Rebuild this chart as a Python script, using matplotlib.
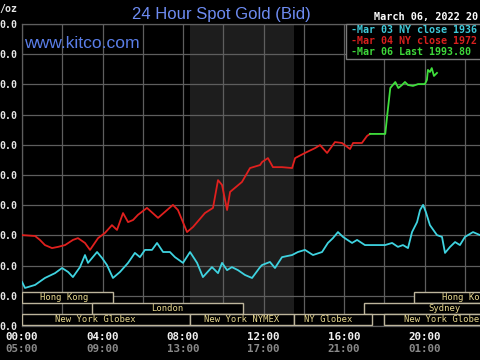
import matplotlib
matplotlib.use("Agg")
import matplotlib.pyplot as plt
import matplotlib.transforms as mtransforms
from matplotlib.patches import Rectangle

# ---------------- data (hours of NY time, USD/oz) ----------------
cyan_hours = [0.00, 0.15, 0.65, 1.14, 1.64, 1.99, 2.29, 2.53, 2.88, 3.13, 3.28, 3.73, 3.98,
              4.22, 4.52, 4.87, 5.27, 5.61, 5.86, 6.11, 6.46, 6.71, 7.01, 7.35, 7.60, 8.00,
              8.35, 8.70, 8.99, 9.44, 9.74, 9.94, 10.19, 10.43, 10.73, 11.08, 11.43, 11.83,
              11.93, 12.32, 12.57, 12.92, 13.42, 13.71, 14.06, 14.46, 14.91, 15.20, 15.45,
              15.70, 15.95, 16.40, 16.65, 17.04, 18.04, 18.39, 18.68, 18.93, 19.18, 19.38,
              19.63, 19.78, 19.93, 20.07, 20.27, 20.62, 20.87, 21.02, 21.27, 21.52, 21.76,
              22.01, 22.41, 22.76, 23.00]
cyan_prices = [1924.6, 1922.6, 1923.6, 1925.9, 1927.5, 1929.2, 1927.9, 1926.2, 1929.5, 1933.5,
               1930.9, 1934.5, 1932.5, 1930.2, 1925.9, 1927.9, 1930.9, 1934.2, 1932.8, 1935.2,
               1935.2, 1937.5, 1934.5, 1934.5, 1932.8, 1930.9, 1934.5, 1930.9, 1926.2, 1929.5,
               1927.5, 1930.9, 1928.5, 1929.5, 1928.5, 1926.9, 1925.9, 1929.5, 1930.2, 1931.2,
               1929.2, 1932.8, 1933.5, 1934.5, 1935.2, 1933.5, 1934.5, 1937.5, 1939.1, 1941.1,
               1939.5, 1937.5, 1938.5, 1936.8, 1936.8, 1937.5, 1936.2, 1936.8, 1935.8, 1941.1,
               1944.4, 1948.4, 1950.1, 1947.7, 1943.4, 1940.1, 1939.5, 1934.2, 1936.2, 1937.8,
               1936.8, 1939.5, 1941.1, 1940.1, 1940.0]

red_hours = [0.00, 0.65, 0.89, 1.14, 1.49, 1.79, 2.14, 2.53, 2.78, 3.13, 3.38, 3.78, 4.12,
             4.47, 4.72, 5.02, 5.27, 5.52, 5.76, 6.21, 6.76, 7.50, 7.75, 8.20, 8.50, 9.09,
             9.49, 9.74, 9.94, 10.19, 10.34, 10.93, 11.33, 11.83, 11.93, 12.22, 12.47, 12.92,
             13.42, 13.57, 14.06, 14.56, 14.81, 15.16, 15.55, 15.90, 16.30, 16.45, 16.89,
             17.14, 17.29]
red_prices = [1940.1, 1939.8, 1938.5, 1936.8, 1935.8, 1936.2, 1936.8, 1938.5, 1939.1, 1937.5,
              1935.2, 1939.1, 1940.8, 1943.4, 1941.8, 1947.4, 1944.4, 1945.1, 1946.8, 1949.1,
              1945.8, 1950.1, 1948.4, 1941.1, 1942.8, 1947.4, 1949.1, 1958.3, 1956.7, 1948.4,
              1954.4, 1957.7, 1962.3, 1963.3, 1964.3, 1965.6, 1962.6, 1962.6, 1962.3, 1965.6,
              1967.3, 1968.9, 1969.9, 1967.3, 1970.9, 1970.6, 1968.6, 1970.6, 1970.6, 1972.9,
              1973.6]

green_hours = [17.29, 18.05, 18.15, 18.30, 18.55, 18.70, 18.88, 19.03, 19.18, 19.43, 19.68,
               20.02, 20.12, 20.17, 20.27, 20.36, 20.47, 20.62]
green_prices = [1973.6, 1973.6, 1979.9, 1988.8, 1990.8, 1988.8, 1989.8, 1990.8, 1989.8, 1989.5,
                1990.1, 1990.1, 1991.5, 1994.8, 1994.1, 1995.4, 1992.8, 1993.8]

# texts exactly as visible in the (cropped) reference
legend_labels = ["-Mar 03 NY close 1936", "-Mar 04 NY close 1972", "-Mar 06 Last 1993.80"]
y_ticks = [1910, 1920, 1930, 1940, 1950, 1960, 1970, 1980, 1990, 2000, 2010]
y_tick_labels = ["0.0"] * len(y_ticks)
x_ticks = [0, 4, 8, 12, 16, 20]
x_labels_ny = ["00:00", "04:00", "08:00", "12:00", "16:00", "20:00"]
x_labels_gmt = ["05:00", "09:00", "13:00", "17:00", "21:00", "01:00"]

# sessions: (row, start hour, end hour, label, label hour, alignment)
sessions = [
    (0, 0.0, 4.5, "Hong Kong", 2.1, "center"),
    (0, 19.5, 26.0, "Hong Ko", 20.85, "left"),
    (1, 3.5, 11.0, "London", 7.2, "center"),
    (1, 17.0, 26.0, "Sydney", 21.0, "center"),
    (2, 0.0, 8.33, "New York Globex", 3.65, "center"),
    (2, 8.33, 13.5, "New York NYMEX", 10.93, "center"),
    (2, 13.5, 17.4, "NY Globex", 15.2, "center"),
    (2, 18.0, 26.0, "New York Globe", 19.0, "left"),
]
nymex_start, nymex_end = 8.333, 13.5

# ---------------- figure ----------------
W, H = 480, 360
MONO = "DejaVu Sans Mono"
fig = plt.figure(figsize=(W / 100, H / 100), dpi=100, facecolor="black")
ax = fig.add_axes([22 / W, 1 - 326 / H, 483 / W, 302 / H])
ax.set_facecolor("black")
ax.set_xlim(0, 24)
ax.set_ylim(1910, 2010)

grid_c = "#5e5e5e"
ax.set_axisbelow(True)
ax.set_xticks(x_ticks)
ax.set_xticks([2, 6, 10, 14, 18, 22], minor=True)
ax.set_xticklabels(x_labels_ny)
ax.set_yticks(y_ticks)
ax.set_yticklabels(y_tick_labels)
ax.grid(which="both", color=grid_c, lw=0.9)
for s in ax.spines.values():
    s.set_color(grid_c)
    s.set_linewidth(0.9)
ax.tick_params(which="both", length=0)
ax.tick_params(axis="y", pad=3.3, labelcolor="#e6e6e6", labelsize=7.1)
ax.tick_params(axis="x", pad=4.5, labelcolor="#f2f2f2", labelsize=7.8)
for lab in ax.get_yticklabels() + ax.get_xticklabels():
    lab.set_family(MONO)
    lab.set_weight("bold")

ax.axvspan(nymex_start, nymex_end, color="#1d1d1d", zorder=0, lw=0)

blend = mtransforms.blended_transform_factory(ax.transData, ax.transAxes)
for h, lab in zip(x_ticks, x_labels_gmt):
    ax.text(h, -0.077, lab, transform=blend, ha="center", va="center",
            color="#8a8a8a", fontsize=7.8, family=MONO, weight="bold", clip_on=False)

# session boxes
row_h = 11 / 302
row_bottom = [1 - (303 - 24) / 302, 1 - (314 - 24) / 302, 1 - (325 - 24) / 302]
for row, x0, x1, lab, lx, align in sessions:
    yb = row_bottom[row]
    ax.add_patch(Rectangle((x0, yb), x1 - x0, row_h, transform=blend,
                           facecolor="black", edgecolor="#bdb59c", lw=1.0, zorder=3))
    ax.text(lx, yb + row_h / 2, lab, transform=blend, ha=align, va="center",
            color="#e9d98f", fontsize=6.4, family=MONO, zorder=4)

# price lines
ax.plot(cyan_hours, cyan_prices, color="#3fd3e0", lw=1.3, zorder=5)
ax.plot(red_hours, red_prices, color="#e0201e", lw=1.3, zorder=5)
ax.plot(green_hours, green_prices, color="#3fe03c", lw=1.3, zorder=6)

# legend box
fig.patches.append(Rectangle((346 / W, 1 - 59 / H), 140 / W, 35 / H, transform=fig.transFigure,
                             facecolor="black", edgecolor="#7a7a7a", lw=1.0, zorder=1))
leg_colors = ["#3fc9d9", "#d8201e", "#3ed83a"]
for i, (lab, c) in enumerate(zip(legend_labels, leg_colors)):
    fig.text(351 / W, 1 - (30 + 10.8 * i) / H, lab, color=c, fontsize=7.2, family=MONO,
             weight="bold", va="center", ha="left", zorder=5)

# header texts
fig.text(221 / W, 1 - 14 / H, "24 Hour Spot Gold (Bid)", color="#6e8cf2", fontsize=12,
         ha="center", va="center", family="Liberation Sans")
fig.text(24 / W, 1 - 43 / H, "www.kitco.com", color="#5a7ee8", fontsize=12.6,
         ha="left", va="center", family="Liberation Sans", zorder=5)
fig.text(374 / W, 1 - 17 / H, "March 06, 2022 20", color="white", fontsize=7.3,
         family=MONO, weight="bold", ha="left", va="center")
fig.text(17 / W, 1 - 9 / H, "/oz", color="#e6e6e6", fontsize=7.1, family=MONO,
         weight="bold", ha="right", va="center")

fig.savefig("out.png", dpi=100, facecolor="black")
